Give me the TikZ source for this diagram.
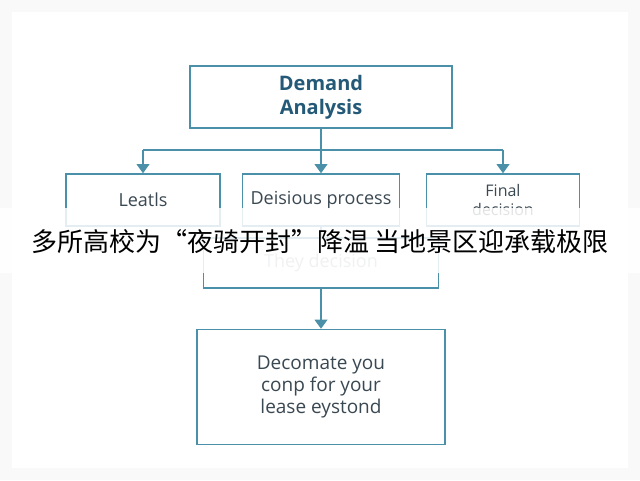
\documentclass[tikz,border=0pt]{standalone}
\usepackage{fontspec}
\setmainfont{Open Sans}
\newfontfamily\cjk{Noto Sans CJK SC}
\usetikzlibrary{positioning}
\usetikzlibrary{arrows.meta}
\definecolor{edge}{HTML}{4A90A8}
\definecolor{ink}{HTML}{3A4852}
\definecolor{head}{HTML}{245A78}
\tikzset{
  box/.style = {draw=edge, line width=1.5pt, fill=white, text=ink, align=center, font=\fontsize{18}{22}\selectfont},
  link/.style = {draw=edge, line width=1.5pt},
  arr/.style = {link, -{Triangle[angle=70:11pt]}}
}
\begin{document}
\begin{tikzpicture}[x=1pt,y=-1pt]

            \useasboundingbox (0,0) rectangle (640,480);
            \fill[gray!5] (0,0) rectangle (640,480);
            \fill[white] (12,12) rectangle (628,468);

            \node (da) [box,minimum width=262pt,minimum height=62pt,text=head,font=\bfseries\fontsize{20}{24}\selectfont] at (321,97) {Demand\\Analysis};
            \node (le) [box,minimum width=154pt,minimum height=52pt] at (143,200) {Leatls};
            \node (dp) [box,minimum width=157pt,minimum height=52pt] at (321,200) {Deisious process};
            \node (fd) [box,minimum width=153pt,minimum height=52pt,font=\fontsize{16}{19}\selectfont] at (503,200) {Final\\decision};
            \node (td) [box,minimum width=235pt,minimum height=50pt,text=ink!50] at (321,263) {They decision};
            \node (dy) [box,minimum width=248pt,minimum height=115pt,font=\fontsize{19}{22}\selectfont] at (321,387) {Decomate you\\conp for your\\lease eystond};

            % branch to the three boxes
            \coordinate (br) at (321,150);
            \coordinate (bl) at (143,150);
            \coordinate (bf) at (503,150);
            \draw[link] (da.south) -- (br);
            \draw[link] (bl) -- (bf);
            \draw[arr] (bl) -- (le.north);
            \draw[arr] (br) -- (dp.north);
            \draw[arr] (bf) -- (fd.north);
            \draw[link] (dp.south) -- (td.north);
            \draw[arr] (td.south) -- (dy.north);

            % caption band
            \fill[white,opacity=0.85] (0,208) rectangle (640,273);
            \node (cap) [font=\cjk\fontsize{26}{30}\selectfont,text=black] at (320,242) {多所高校为“夜骑开封”降温 当地景区迎承载极限};

\end{tikzpicture}
\end{document}
